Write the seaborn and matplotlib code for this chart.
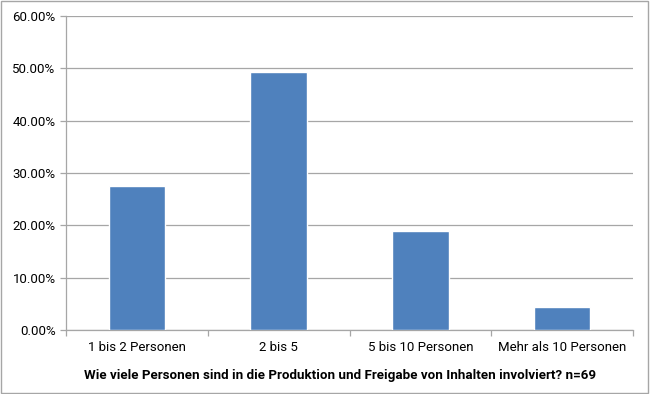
import matplotlib
matplotlib.use("Agg")
import matplotlib.pyplot as plt
import matplotlib.ticker as mticker
import matplotlib.patches as mpatches
import seaborn as sns
import pandas as pd

categories = ["1 bis 2 Personen", "2 bis 5", "5 bis 10 Personen", "Mehr als 10 Personen"]
counts = [19, 34, 13, 3]
n_total = 69
shares = [c / n_total for c in counts]
title = "Wie viele Personen sind in die Produktion und Freigabe von Inhalten involviert? n=69"

df = pd.DataFrame({"Kategorie": categories, "Anteil": shares})

sns.set_theme(style="white")
plt.rcParams["font.family"] = ["Roboto", "DejaVu Sans"]

fig = plt.figure(figsize=(6.5, 3.94), dpi=100)
ax = fig.add_axes([66 / 650, 64 / 394, 567 / 650, 314 / 394])

sns.barplot(data=df, x="Kategorie", y="Anteil", color="#4F81BD",
            width=0.4, saturation=1, ax=ax, zorder=3)

ax.set_ylim(0, 0.6)
ax.set_xlim(-0.5, 3.5)
ax.yaxis.set_major_locator(mticker.MultipleLocator(0.1))
ax.yaxis.set_major_formatter(mticker.PercentFormatter(1.0, decimals=2))
ax.grid(axis="y", color="#a6a6a6", linewidth=0.9, zorder=0)

# ticks between categories on the x axis
ax.set_xticks([-0.5, 0.5, 1.5, 2.5, 3.5], minor=True)
ax.tick_params(axis="x", which="major", length=0, labelsize=9.5, pad=8, colors="black")
ax.tick_params(axis="x", which="minor", length=4, width=0.9, color="#a6a6a6", bottom=True)
ax.tick_params(axis="y", length=4, width=0.9, color="#a6a6a6", labelsize=9.5, colors="black", left=True)

for s in ["top", "right"]:
    ax.spines[s].set_visible(False)
for s in ["left", "bottom"]:
    ax.spines[s].set_color("#a6a6a6")
    ax.spines[s].set_linewidth(0.9)

ax.set_ylabel("")
ax.set_xlabel("")
fig.text(340 / 650, 1 - 376 / 394, title, ha="center", va="center",
         fontsize=9.6, fontweight="bold", color="black")

# outer frame
fig.patches.append(mpatches.Rectangle((0.002, 0.003), 0.995, 0.994, transform=fig.transFigure,
                                      fill=False, edgecolor="#a6a6a6", linewidth=1))

fig.savefig("out.png", dpi=100)
